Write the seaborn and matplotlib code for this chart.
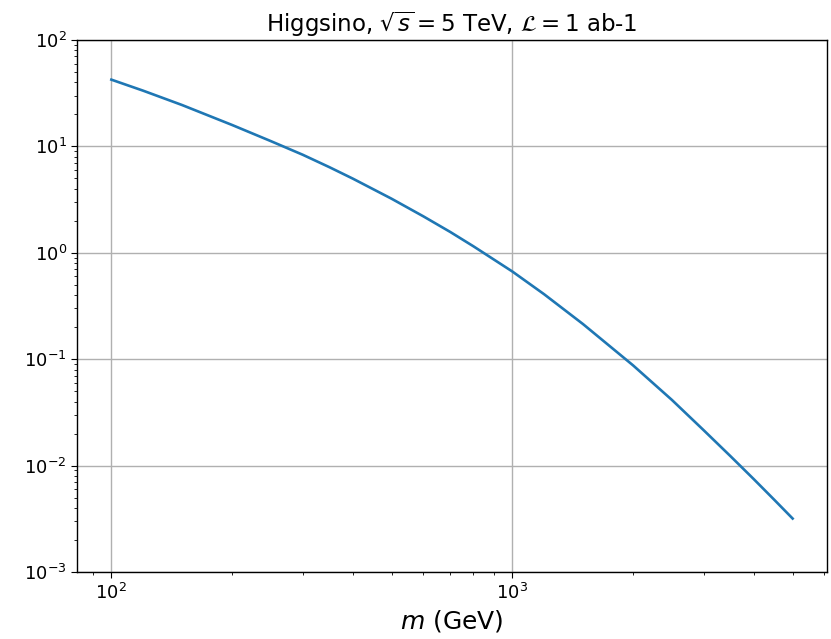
import matplotlib
matplotlib.use("Agg")
import matplotlib.pyplot as plt
import seaborn as sns
import pandas as pd

# Data
mass_gev = [100, 120, 150, 200, 250, 300, 350, 400, 500, 600, 700, 800,
            1000, 1200, 1500, 2000, 2500, 3000, 3500, 4000, 4500, 5000]
signal = [42.4, 33.4, 24.5, 15.9, 11.2, 8.35, 6.37, 4.98, 3.22, 2.20, 1.57, 1.15,
          0.667, 0.408, 0.214, 0.0875, 0.0414, 0.0215, 0.01225, 0.00746, 0.00477, 0.00318]

title_text = r"Higgsino, $\sqrt{s} = 5$ TeV, $\mathcal{L} = 1$ ab-1"
xlabel_text = r"$m$ (GeV)"

df = pd.DataFrame({"m": mass_gev, "y": signal})

fig = plt.figure(figsize=(8.31, 6.39), dpi=100)
ax = fig.add_axes([77.3 / 831, 1 - 572 / 639, (826.7 - 77.3) / 831, 532 / 639])

sns.lineplot(data=df, x="m", y="y", ax=ax, color="#1f77b4", linewidth=1.9)

ax.set_xscale("log")
ax.set_yscale("log")
ax.set_ylim(1e-3, 1e2)
ax.grid(True, which="major", color="#b0b0b0", linewidth=1.0)
ax.set_axisbelow(True)

ax.set_title(title_text, fontsize=16.5)
ax.set_xlabel(xlabel_text, fontsize=18)
ax.set_ylabel("")
ax.tick_params(axis="both", which="major", labelsize=13, length=4)
ax.tick_params(axis="both", which="minor", length=2.5)
for s in ax.spines.values():
    s.set_color("black")
    s.set_linewidth(1.0)

fig.savefig("out.png", dpi=100)
